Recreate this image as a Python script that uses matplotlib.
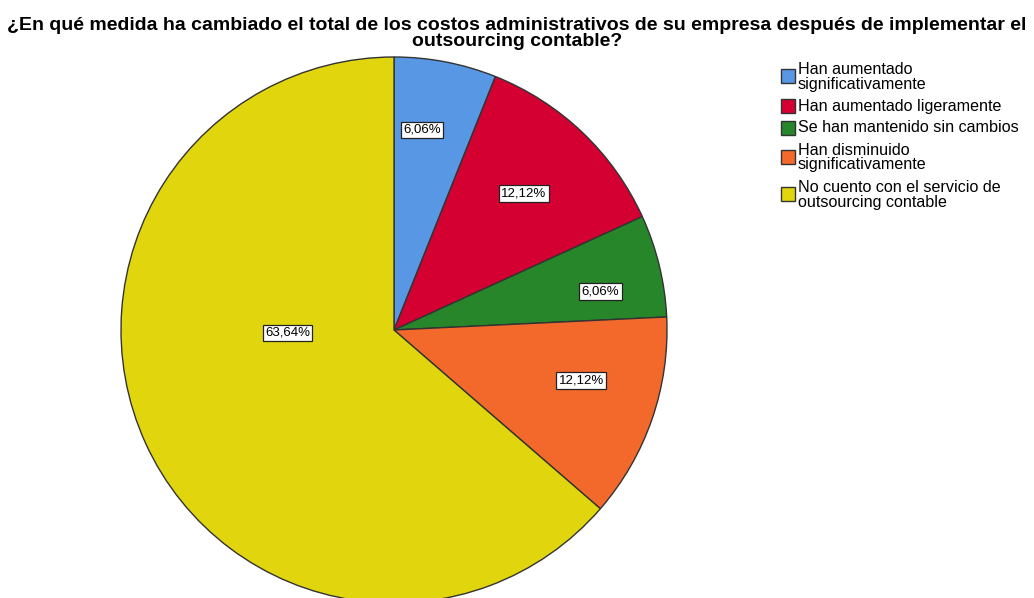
import matplotlib
matplotlib.use("Agg")
import matplotlib.pyplot as plt
from matplotlib.patches import Rectangle
import numpy as np

title_lines = ["¿En qué medida ha cambiado el total de los costos administrativos de su empresa después de implementar el",
               "outsourcing contable?"]
categories = ["Han aumentado\nsignificativamente", "Han aumentado ligeramente",
              "Se han mantenido sin cambios", "Han disminuido\nsignificativamente",
              "No cuento con el servicio de\noutsourcing contable"]
values = [6.06, 12.12, 6.06, 12.12, 63.64]
pct_labels = ["6,06%", "12,12%", "6,06%", "12,12%", "63,64%"]
colors = ["#5897e4", "#d50032", "#27852a", "#f2692b", "#e1d60e"]

# label placement (angle offset from wedge middle in degrees, distance as fraction of radius)
label_pos = [(3, 0.74), (0, 0.69), (-3, 0.77), (4, 0.71), (-23, 0.39)]

W, H = 1034, 598
plt.rcParams['font.family'] = ['Liberation Sans', 'DejaVu Sans']
fig = plt.figure(figsize=(W / 100, H / 100), dpi=100)
ax = fig.add_axes([0, 0, 1, 1])

cx, cy, R = 394, H - 330, 273
wedges, _ = ax.pie(values, colors=colors, startangle=90, counterclock=False,
                   center=(cx, cy), radius=R, frame=True,
                   wedgeprops=dict(edgecolor="#333333", linewidth=1.0))
ax.set_xlim(0, W)
ax.set_ylim(0, H)
ax.set_aspect('equal')
ax.axis('off')

for w, lab, (dang, dist) in zip(wedges, pct_labels, label_pos):
    mid = np.deg2rad((w.theta1 + w.theta2) / 2 + dang)
    x = cx + R * dist * np.cos(mid)
    y = cy + R * dist * np.sin(mid)
    ax.text(x, y, lab, ha='center', va='center', fontsize=9.5, color='black',
            bbox=dict(boxstyle='square,pad=0.18', facecolor='white', edgecolor='#222222', linewidth=0.9))

fig.text(0.5, 1 - 25 / H, title_lines[0], ha='center', va='center',
         fontsize=14, fontweight='bold')
fig.text(0.5, 1 - 42 / H, title_lines[1], ha='center', va='center',
         fontsize=14, fontweight='bold')

# legend
entry_y = [76, 106, 128, 157, 194]
for yk, lab, c in zip(entry_y, categories, colors):
    fig.patches.append(Rectangle((781 / W, 1 - (yk + 7) / H), 14 / W, 14 / H,
                                 transform=fig.transFigure, facecolor=c,
                                 edgecolor='#333333', linewidth=1.0))
    lines = lab.split("\n")
    if len(lines) == 1:
        offs = [0]
    else:
        offs = [-6, 8]
    for ln, o in zip(lines, offs):
        fig.text(798 / W, 1 - (yk + o) / H, ln, ha='left', va='center', fontsize=11.6)

fig.savefig("out.png", dpi=100)
